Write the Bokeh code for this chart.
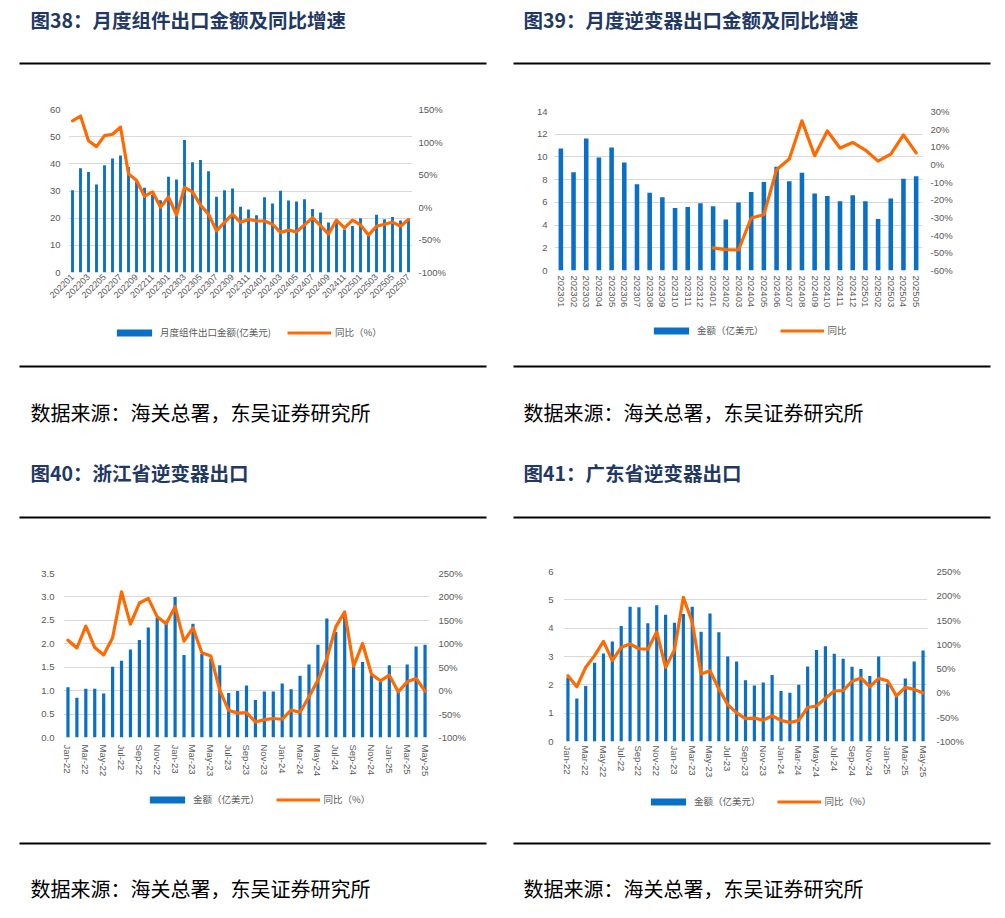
import math
from bokeh.plotting import figure
from bokeh.models import (Range1d, LinearAxis, FixedTicker, PrintfTickFormatter,
                          Legend, LegendItem)
from bokeh.layouts import column, row
from bokeh.core.properties import value
from bokeh.embed import file_html
from bokeh.resources import INLINE

NAN = float("nan")

# ---------------- data ----------------
# 图38 月度组件出口金额 (亿美元) 及同比 (%)
c1_months = ["202201", "202202", "202203", "202204", "202205", "202206", "202207", "202208",
             "202209", "202210", "202211", "202212",
             "202301", "202302", "202303", "202304", "202305", "202306", "202307", "202308",
             "202309", "202310", "202311", "202312",
             "202401", "202402", "202403", "202404", "202405", "202406", "202407", "202408",
             "202409", "202410", "202411", "202412",
             "202501", "202502", "202503", "202504", "202505", "202506", "202507"]
c1_amount = [30.3, 38.4, 37.0, 32.4, 39.5, 42.0, 43.1, 38.8, 33.5, 31.2, 28.5, 26.6,
             35.2, 34.2, 48.8, 40.6, 41.4, 37.3, 27.9, 30.3, 30.9, 24.2, 23.2, 21.1,
             27.7, 25.4, 30.1, 26.5, 26.1, 27.0, 23.4, 22.1, 18.4, 19.4, 15.8, 17.1,
             20.0, 14.5, 21.3, 19.6, 20.4, 19.1, 19.6]
c1_yoy = [132.7, 140.0, 102.0, 93.0, 110.0, 112.0, 123.0, 51.0, 41.6, 17.0, 23.7, 0.0,
          16.0, -12.0, 30.5, 23.7, 3.3, -10.5, -36.0, -23.0, -10.5, -23.0, -18.7, -20.7,
          -21.0, -26.0, -38.6, -35.0, -37.6, -27.0, -16.0, -28.0, -41.0, -19.7, -31.5, -19.7,
          -27.0, -42.6, -29.0, -26.0, -22.8, -29.0, -18.7]

# 图39 月度逆变器出口金额 (亿美元) 及同比 (%)
c2_months = ["202301", "202302", "202303", "202304", "202305", "202306", "202307", "202308",
             "202309", "202310", "202311", "202312",
             "202401", "202402", "202403", "202404", "202405", "202406", "202407", "202408",
             "202409", "202410", "202411", "202412",
             "202501", "202502", "202503", "202504", "202505"]
c2_amount = [10.75, 8.64, 11.63, 9.96, 10.84, 9.52, 7.59, 6.85, 6.44, 5.51, 5.59, 5.92,
             5.65, 4.48, 5.98, 6.91, 7.79, 9.14, 7.85, 8.61, 6.77, 6.56, 6.09, 6.62,
             6.09, 4.54, 6.33, 8.08, 8.29]
c2_yoy = [NAN, NAN, NAN, NAN, NAN, NAN, NAN, NAN, NAN, NAN, NAN, NAN,
          -47.2, -48.2, -48.4, -30.3, -28.4, -3.0, 3.1, 24.7, 5.0, 19.0, 9.3, 12.5,
          8.2, 1.9, 5.9, 16.8, 6.6]

# 图40 / 图41 月份
c34_months = ["Jan-22", "Feb-22", "Mar-22", "Apr-22", "May-22", "Jun-22", "Jul-22", "Aug-22",
              "Sep-22", "Oct-22", "Nov-22", "Dec-22",
              "Jan-23", "Feb-23", "Mar-23", "Apr-23", "May-23", "Jun-23", "Jul-23", "Aug-23",
              "Sep-23", "Oct-23", "Nov-23", "Dec-23",
              "Jan-24", "Feb-24", "Mar-24", "Apr-24", "May-24", "Jun-24", "Jul-24", "Aug-24",
              "Sep-24", "Oct-24", "Nov-24", "Dec-24",
              "Jan-25", "Feb-25", "Mar-25", "Apr-25", "May-25"]
# 图40 浙江省逆变器出口
c3_amount = [1.07, 0.85, 1.04, 1.04, 0.94, 1.51, 1.64, 1.88, 2.08, 2.35, 2.55, 2.45,
             3.00, 1.76, 2.43, 1.78, 1.68, 1.54, 0.95, 0.99, 1.11, 0.80, 0.98, 0.98,
             1.15, 1.03, 1.32, 1.56, 1.98, 2.54, 2.25, 2.60, 1.55, 1.61, 1.33, 1.19,
             1.54, 1.00, 1.56, 1.94, 1.98]
c3_yoy = [107.7, 91.0, 137.6, 92.0, 76.0, 113.0, 211.0, 142.0, 187.0, 197.0, 157.5, 143.0,
          179.0, 105.5, 134.0, 80.7, 74.0, 1.0, -42.0, -48.0, -46.7, -66.6, -62.0, -59.5,
          -61.0, -41.5, -46.0, -13.0, 22.0, 68.6, 136.0, 168.0, 52.0, 100.6, 35.0, 21.0,
          33.0, -2.6, 18.8, 25.9, -1.0]
# 图41 广东省逆变器出口
c4_amount = [2.26, 1.52, 1.96, 2.78, 3.11, 3.53, 4.08, 4.76, 4.74, 4.17, 4.81, 4.47,
             4.19, 4.50, 4.76, 3.87, 4.52, 3.86, 3.00, 2.82, 2.16, 1.98, 2.08, 2.35,
             1.78, 1.72, 2.00, 2.65, 3.23, 3.36, 3.10, 2.92, 2.64, 2.56, 2.31, 3.00,
             2.05, 1.70, 2.22, 2.82, 3.21]
c4_yoy = [35.5, 12.8, 52.7, 76.8, 106.0, 66.4, 94.0, 100.8, 91.0, 90.0, 125.6, 52.7,
          88.4, 197.0, 145.5, 39.0, 45.8, 8.0, -24.0, -41.0, -53.0, -52.0, -56.0, -47.0,
          -56.5, -61.0, -56.5, -30.0, -27.0, -11.0, 4.0, 5.0, 24.0, 30.7, 12.8, 30.0,
          25.0, -6.0, 11.4, 7.3, 0.0]

c1_left_ticks = [0, 10, 20, 30, 40, 50, 60]
c1_right_ticks = [-100, -50, 0, 50, 100, 150]
c2_left_ticks = [0, 2, 4, 6, 8, 10, 12, 14]
c2_right_ticks = [-60, -50, -40, -30, -20, -10, 0, 10, 20, 30]
c3_left_ticks = [0.0, 0.5, 1.0, 1.5, 2.0, 2.5, 3.0, 3.5]
c3_right_ticks = [-100, -50, 0, 50, 100, 150, 200, 250]
c4_left_ticks = [0, 1, 2, 3, 4, 5, 6]
c4_right_ticks = [-100, -50, 0, 50, 100, 150, 200, 250]

titles_top = ["图38：月度组件出口金额及同比增速", "图39：月度逆变器出口金额及同比增速"]
titles_mid = ["图40：浙江省逆变器出口", "图41：广东省逆变器出口"]
source_text = "数据来源：海关总署，东吴证券研究所"

BLUE = "#0A70C6"
ORANGE = "#FF6A00"
GRID = "#D9D9D9"
TICK = "#595959"
TITLE = "#1F3864"
NUM_FONT = "Liberation Sans"
CJK = "Noto Sans CJK SC"


def make_chart(W, H, bl, br, bt, bb, labels, amount, yoy, left_ticks, left_fmt,
               right_ticks, step, orient, xfs, yfs, x_standoff, l_standoff, r_standoff):
    n = len(labels)
    xs = list(range(n))
    p = figure(width=W, height=H, output_backend="svg", toolbar_location=None,
               x_range=Range1d(-0.5, n - 0.5),
               y_range=Range1d(left_ticks[0], left_ticks[-1]),
               min_border_left=bl, min_border_right=br,
               min_border_top=bt, min_border_bottom=bb)
    p.outline_line_color = None
    p.background_fill_color = "white"
    p.border_fill_color = "white"
    p.extra_y_ranges = {"pct": Range1d(right_ticks[0], right_ticks[-1])}

    p.vbar(x=xs, top=amount, width=0.36, fill_color=BLUE, line_color=None)
    p.line(x=xs, y=yoy, y_range_name="pct", line_color=ORANGE, line_width=3.2,
           line_join="round", line_cap="round")

    right = LinearAxis(y_range_name="pct", ticker=FixedTicker(ticks=right_ticks),
                       formatter=PrintfTickFormatter(format="%d%%"))
    p.add_layout(right, "right")

    left = p.yaxis[0]
    left.ticker = FixedTicker(ticks=left_ticks)
    left.formatter = PrintfTickFormatter(format=left_fmt)
    left.major_label_standoff = l_standoff
    right.major_label_standoff = r_standoff

    xa = p.xaxis[0]
    tick_idx = xs[::step]
    xa.ticker = FixedTicker(ticks=tick_idx)
    xa.major_label_overrides = {i: labels[i] for i in tick_idx}
    xa.major_label_orientation = orient
    xa.major_label_standoff = x_standoff
    xa.major_label_text_font_size = xfs

    for ax in [xa, left, right]:
        ax.axis_line_color = None
        ax.major_tick_line_color = None
        ax.minor_tick_line_color = None
        ax.major_tick_out = 0
        ax.major_tick_in = 0
        ax.major_label_text_color = TICK
        ax.major_label_text_font = NUM_FONT
    left.major_label_text_font_size = yfs
    right.major_label_text_font_size = yfs

    p.xgrid.visible = False
    p.ygrid.grid_line_color = GRID
    p.ygrid.grid_line_width = 1
    return p


def legend_strip(W, H, leg_bar, leg_line, loc):
    """Legend strip under a chart, using swatches styled like the chart series."""
    f = figure(width=W, height=H, output_backend="svg", toolbar_location=None,
               x_range=Range1d(0, 1), y_range=Range1d(0, 1),
               x_axis_location=None, y_axis_location=None, min_border=0)
    f.outline_line_color = None
    f.grid.visible = False
    f.background_fill_color = "white"
    f.border_fill_color = "white"
    # zero-size swatch renderers (nothing visible in the strip itself)
    rb = f.vbar(x=[0], top=[0], bottom=[0], width=0, fill_color=BLUE, line_color=None)
    rl = f.line(x=[0], y=[0], line_color=ORANGE, line_width=3.2)
    legend = Legend(items=[LegendItem(label=value(leg_bar), renderers=[rb]),
                           LegendItem(label=value(leg_line), renderers=[rl])],
                    orientation="horizontal", location=loc)
    legend.glyph_width = 44
    legend.glyph_height = 9
    legend.label_height = 12
    legend.label_standoff = 4
    legend.spacing = 16
    legend.padding = 2
    legend.margin = 0
    legend.border_line_color = None
    legend.background_fill_alpha = 0
    legend.label_text_font = CJK
    legend.label_text_font_size = "9.5px"
    legend.label_text_color = TICK
    f.add_layout(legend, "center")
    return f


def band(W, H):
    b = figure(width=W, height=H, output_backend="svg", toolbar_location=None,
               x_range=Range1d(0, W), y_range=Range1d(H, 0),
               x_axis_location=None, y_axis_location=None,
               min_border=0)
    b.outline_line_color = None
    b.grid.visible = False
    b.background_fill_color = "white"
    b.border_fill_color = "white"
    return b


TOTAL_W = 1000
LEFT_W = 505
RIGHT_W = 495

# band A: titles 38/39 and rule
bA = band(TOTAL_W, 90)
bA.text(x=[30, 523], y=[19, 19], text=titles_top, text_font=value(CJK),
        text_font_style="bold", text_font_size=value("19.5px"), text_color=TITLE,
        text_baseline="middle", text_align="left")
bA.segment(x0=[19, 513], y0=[63, 63], x1=[486, 990], y1=[63, 63],
           line_width=2, line_color="black")

# legend location is relative to the strip frame, which is aligned with the chart frame
ch1 = make_chart(LEFT_W, 228, 68, 93, 19, 46, c1_months, c1_amount, c1_yoy,
                 c1_left_ticks, "%d", c1_right_ticks, 2, math.pi / 4, "9px", "9.5px",
                 3, 8, 6)
lg1 = legend_strip(LEFT_W, 27, "月度组件出口金额(亿美元)", "同比（%）", (44, 6))
ch2 = make_chart(RIGHT_W, 228, 49, 78, 21, 48, c2_months, c2_amount, c2_yoy,
                 c2_left_ticks, "%d", c2_right_ticks, 1, "vertical", "9.5px", "9.5px",
                 5, 7, 8)
lg2 = legend_strip(RIGHT_W, 27, "金额（亿美元）", "同比", (95, 8))

# band C: rules, sources, titles 40/41, rules
bC = band(TOTAL_W, 200)
bC.segment(x0=[19, 513, 19, 513], y0=[21, 21, 172, 172], x1=[486, 990, 486, 990],
           y1=[21, 21, 172, 172], line_width=2, line_color="black")
bC.text(x=[30, 523], y=[67, 67], text=[source_text, source_text], text_font=value(CJK),
        text_font_size=value("20px"), text_color="black",
        text_baseline="middle", text_align="left")
bC.text(x=[30, 523], y=[127, 127], text=titles_mid, text_font=value(CJK),
        text_font_style="bold", text_font_size=value("19.5px"), text_color=TITLE,
        text_baseline="middle", text_align="left")

ch3 = make_chart(LEFT_W, 245, 63, 76, 28, 53, c34_months, c3_amount, c3_yoy,
                 c3_left_ticks, "%.1f", c3_right_ticks, 2, "vertical", "9.5px", "9.5px",
                 7, 9, 9)
lg3 = legend_strip(LEFT_W, 30, "金额（亿美元）", "同比（%）", (82, 14))
ch4 = make_chart(RIGHT_W, 245, 58, 73, 26, 49, c34_months, c4_amount, c4_yoy,
                 c4_left_ticks, "%d", c4_right_ticks, 2, "vertical", "9.5px", "9.5px",
                 4, 10, 9)
lg4 = legend_strip(RIGHT_W, 30, "金额（亿美元）", "同比（%）", (83, 12))

# band E: rule and sources
bE = band(TOTAL_W, 90)
bE.segment(x0=[19, 513], y0=[23, 23], x1=[486, 990], y1=[23, 23],
           line_width=2, line_color="black")
bE.text(x=[30, 523], y=[68, 68], text=[source_text, source_text], text_font=value(CJK),
        text_font_size=value("20px"), text_color="black",
        text_baseline="middle", text_align="left")

layout = column(bA,
                row(column(ch1, lg1, spacing=0), column(ch2, lg2, spacing=0), spacing=0),
                bC,
                row(column(ch3, lg3, spacing=0), column(ch4, lg4, spacing=0), spacing=0),
                bE, spacing=0)

open("out.html", "w").write(file_html(layout, INLINE))
